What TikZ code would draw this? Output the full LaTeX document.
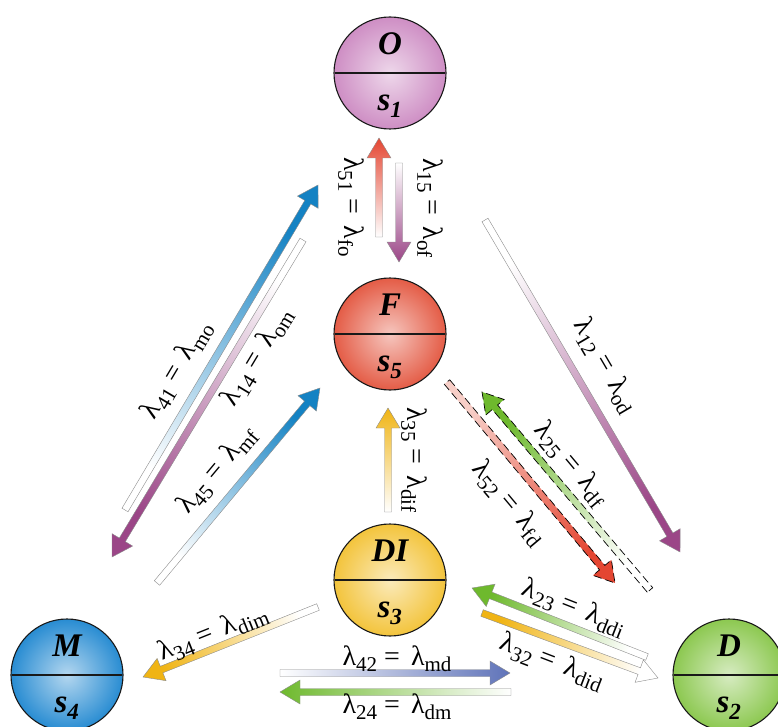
\documentclass[tikz,border=0pt]{standalone}
\usepackage{fontspec}
\setmainfont{Liberation Serif}
\usetikzlibrary{calc,shapes.multipart}
\definecolor{obase}{RGB}{206,142,196}
\definecolor{fbase}{RGB}{228,92,70}
\definecolor{dibase}{RGB}{243,196,60}
\definecolor{mbase}{RGB}{40,140,210}
\definecolor{dbase}{RGB}{140,200,80}
\definecolor{arrpurple}{RGB}{155,70,135}
\definecolor{arrred}{RGB}{228,70,50}
\definecolor{arrblue}{RGB}{20,130,195}
\definecolor{arryellow}{RGB}{240,180,20}
\definecolor{arrslate}{RGB}{95,115,185}
\definecolor{arrgreen}{RGB}{110,185,45}
\newcommand\shaftw{7pt}
\newcommand\headw{24pt}
\newcommand\headl{20pt}
\tikzset{
  ball/.style={
    circle split, draw=black!90, line width=1.1pt,
    minimum size=112pt, inner sep=3pt,
    inner color=#1!35!white, outer color=#1,
    font=\fontsize{33}{38}\selectfont\bfseries\itshape
  },
  rate arrow/.style={draw=black!45, line width=0.4pt},
  rate dashed/.style={draw=black, line width=0.7pt, dash pattern=on 8pt off 4pt},
  rate label/.style={font=\fontsize{28}{33}\selectfont, inner sep=1pt}
}
\newcommand\upperpart[1]{\rule[-15pt]{0pt}{15pt}#1}
\newcommand\lowerpart[1]{\rule{0pt}{34pt}s\textsubscript{#1}}
\newcommand\ratesub[1]{\raisebox{-6pt}{\fontsize{21}{24}\selectfont#1}}
\newcommand\rate[2]{λ\ratesub{#1}\hspace{0.25em}=\hspace{0.4em}λ\ratesub{#2}}
% shaded arrow from #2 to #3, tail colour #4, head colour #5
\newcommand\gradarrow[5][]{%
  \pgfmathanglebetweenpoints{\pgfpointanchor{#2}{center}}{\pgfpointanchor{#3}{center}}%
  \let\arrang\pgfmathresult
  \pgfmathsetmacro\shadang{\arrang-90}%
  \path[rate arrow, bottom color=#4, top color=#5, shading angle=\shadang, #1]
    let \p1=($(#3)-(#2)$), \n1={veclen(\x1,\y1)} in
    ($(#2)+(\arrang+90:\shaftw/2)$) -- ++(\arrang:\n1-\headl)
    -- ++(\arrang+90:\headw/2-\shaftw/2) -- (#3)
    -- ($(#3)+(\arrang+180:\headl)+(\arrang-90:\headw/2)$)
    -- ++(\arrang+90:\headw/2-\shaftw/2)
    -- ($(#2)+(\arrang-90:\shaftw/2)$) -- cycle;
}

\begin{document}
\begin{tikzpicture}[x=1pt, y=-1pt]
  \useasboundingbox (0,0) rectangle (778,727);

  % states
  \node[ball=obase] (O) at (390,73) {\upperpart{O} \nodepart{lower} \lowerpart{1}};
  \node[ball=fbase] (F) at (390,334) {\upperpart{F} \nodepart{lower} \lowerpart{5}};
  \node[ball=dibase] (DI) at (390,580) {\upperpart{DI} \nodepart{lower} \lowerpart{3}};
  \node[ball=mbase] (M) at (67,675) {\upperpart{M} \nodepart{lower} \lowerpart{4}};
  \node[ball=dbase] (D) at (729,675) {\upperpart{D} \nodepart{lower} \lowerpart{2}};

  % arrow ends
  \coordinate (t51) at (379,237); \coordinate (h51) at (379,138);
  \coordinate (t15) at (399,163); \coordinate (h15) at (399,262);
  \coordinate (t12) at (485,220); \coordinate (h12) at (680,552);
  \coordinate (t52) at (447,382); \coordinate (h52) at (615,583);
  \coordinate (t25) at (650,590); \coordinate (h25) at (482,392);
  \coordinate (t41) at (125,510); \coordinate (h41) at (318,185);
  \coordinate (t14) at (303,240); \coordinate (h14) at (112,557);
  \coordinate (t45) at (157,583); \coordinate (h45) at (320,388);
  \coordinate (t35) at (388,512); \coordinate (h35) at (388,408);
  \coordinate (t34) at (318,607); \coordinate (h34) at (143,677);
  \coordinate (t42) at (280,673); \coordinate (h42) at (510,673);
  \coordinate (t24) at (511,692); \coordinate (h24) at (280,692);
  \coordinate (t23) at (647,657); \coordinate (h23) at (472,588);
  \coordinate (t32) at (482,613); \coordinate (h32) at (658,678);

  % transitions
  \gradarrow{t51}{h51}{white}{arrred}
  \gradarrow{t15}{h15}{white}{arrpurple}
  \gradarrow{t12}{h12}{white}{arrpurple}
  \gradarrow[rate dashed]{t52}{h52}{fbase!30!white}{arrred}
  \gradarrow[rate dashed]{t25}{h25}{white}{arrgreen}
  \gradarrow{t41}{h41}{white}{arrblue}
  \gradarrow{t14}{h14}{white}{arrpurple}
  \gradarrow{t45}{h45}{white}{arrblue}
  \gradarrow{t35}{h35}{white}{arryellow}
  \gradarrow{t34}{h34}{white}{arryellow}
  \gradarrow{t42}{h42}{white}{arrslate}
  \gradarrow{t24}{h24}{white}{arrgreen}
  \gradarrow{t23}{h23}{white}{arrgreen}
  \gradarrow{t32}{h32}{arryellow}{white}

  % rates
  \node[rate label, rotate=-90] (l51) at (351,207) {\rate{51}{fo}};
  \node[rate label, rotate=-90] (l15) at (430,208) {\rate{15}{of}};
  \node[rate label, rotate=-59.6] (l12) at (605,366) {\rate{12}{od}};
  \node[rate label, rotate=-50] (l25) at (571,464) {\rate{25}{df}};
  \node[rate label, rotate=-50] (l52) at (509,503) {\rate{52}{fd}};
  \node[rate label, rotate=59.3] (l41) at (177,370) {\rate{41}{mo}};
  \node[rate label, rotate=59] (l14) at (257,357) {\rate{14}{om}};
  \node[rate label, rotate=50] (l45) at (217,470) {\rate{45}{mf}};
  \node[rate label, rotate=-90] (l35) at (414,460) {\rate{35}{dif}};
  \node[rate label, rotate=21.8] (l34) at (213,633) {\rate{34}{dim}};
  \node[rate label] (l42) at (397,659) {\rate{42}{md}};
  \node[rate label] (l24) at (397,707) {\rate{24}{dm}};
  \node[rate label, rotate=-21.5] (l23) at (574,608) {\rate{23}{ddi}};
  \node[rate label, rotate=-21] (l32) at (552,662) {\rate{32}{did}};
\end{tikzpicture}
\end{document}
